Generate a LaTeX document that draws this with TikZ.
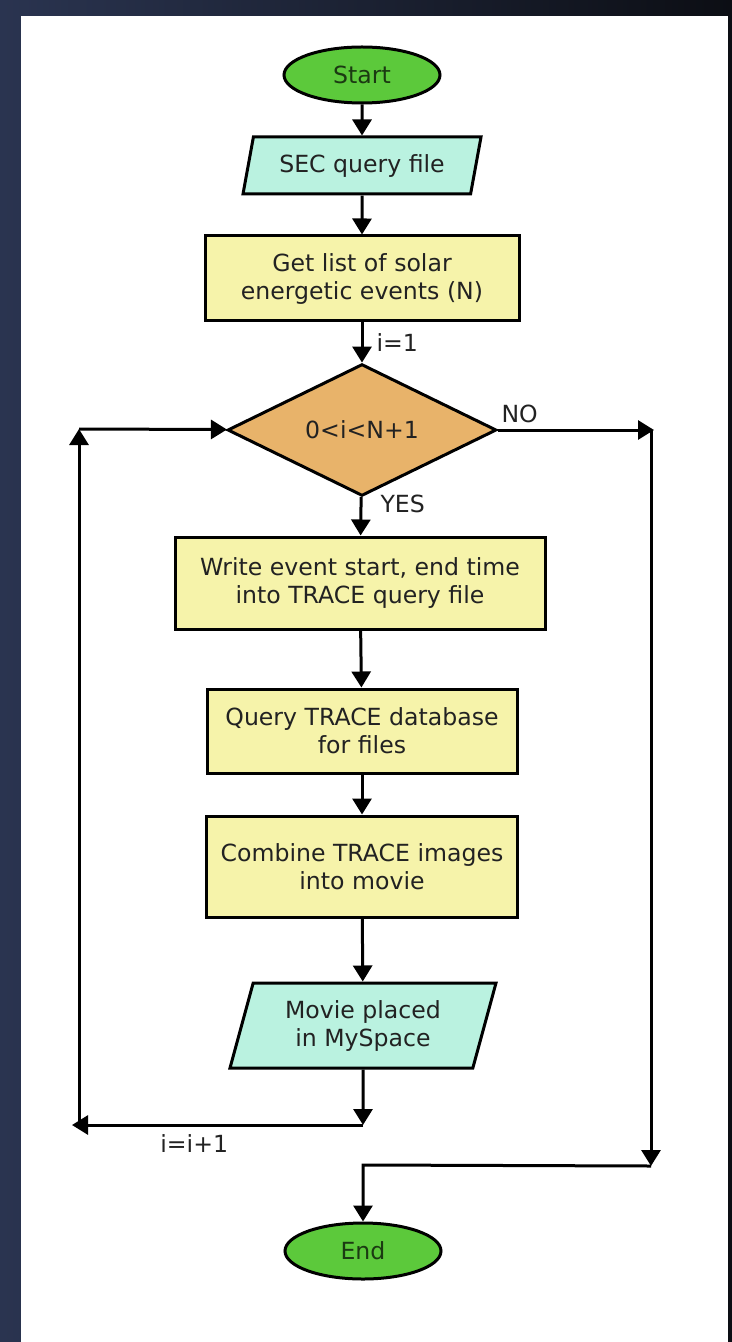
\documentclass[tikz,border=0pt]{standalone}
\usepackage{fontspec}
\setmainfont{DejaVu Sans}
\usetikzlibrary{shapes.geometric, arrows.meta, positioning}
\definecolor{termgreen}{HTML}{5CC93B}
\definecolor{termink}{HTML}{1B3A12}
\definecolor{procyellow}{HTML}{F6F3AA}
\definecolor{iocyan}{HTML}{BAF2E0}
\definecolor{decorange}{HTML}{E8B36A}
\definecolor{inkgray}{HTML}{222222}
\definecolor{bgleft}{HTML}{2A3450}
\definecolor{bgright}{HTML}{0C0E14}

\begin{document}
\begin{tikzpicture}[x=0.5pt, y=-0.5pt,
    font=\fontsize{11.8}{14}\selectfont,
    flow/.style={-{Triangle[length=8pt,width=9.5pt]}, line width=1.5pt},
    terminal/.style={ellipse, draw, line width=1.5pt, fill=termgreen, text=termink,
      minimum width=78pt, minimum height=28pt, inner sep=0pt},
    process/.style={rectangle, draw, line width=1.5pt, fill=procyellow, text=inkgray,
      align=center, inner sep=0pt},
    iobox/.style={trapezium, trapezium left angle=65.5, trapezium right angle=114.5,
      trapezium stretches body, draw, line width=1.5pt, fill=iocyan, text=inkgray,
      align=center, inner sep=0pt},
    decision/.style={diamond, draw, line width=1.5pt, fill=decorange, text=inkgray,
      minimum width=134.5pt, minimum height=58pt, inner sep=0pt},
    lbl/.style={inner sep=0pt, text=inkgray}]
    \useasboundingbox (0,0) rectangle (732,1342);
    % backdrop and white sheet
    \shade[left color=bgleft, right color=bgright] (0,0) rectangle (732,1342);
    \fill[white] (21,16) rectangle (728,1342);

    % blocks
    \node[terminal] (start) at (362,75) {Start};
    \node[iobox, minimum width=119pt, minimum height=28.5pt] (secq) at (362,165.5) {SEC query file};
    \node[process, minimum width=157pt, minimum height=42.5pt] (getlist) at (362,278.5)
      {Get list of solar\\energetic events (N)};
    \node[decision] (test) at (362,430) {0<i<N+1};
    \node[process, minimum width=185pt, minimum height=46pt] (writeq) at (360,583)
      {Write event start, end time\\into TRACE query file};
    \node[process, minimum width=155pt, minimum height=42pt] (querydb) at (362,731)
      {Query TRACE database\\for files};
    \node[process, minimum width=155.5pt, minimum height=50.5pt] (combine) at (362,866.5)
      {Combine TRACE images\\into movie};
    \node[iobox, minimum width=133pt, minimum height=42.5pt] (movie) at (363,1025.5)
      {Movie placed\\in MySpace};
    \node[terminal] (stop) at (363,1251) {End};

    % corners of the loop and of the exit
    \coordinate (backR) at (363,1125);
    \coordinate (backL) at (72,1125);
    \coordinate (backT) at (79,429);
    \coordinate (noR) at (654,430);
    \coordinate (noB) at (651,1166);
    \coordinate (endT) at (363,1165);

    % main flow
    \draw[flow] (start) -- (secq);
    \draw[flow] (secq) -- (getlist);
    \draw[flow] (getlist) -- (test) node[lbl, midway, right=6.5pt] (initlbl) {i=1};
    \draw[flow] (test) -- (writeq) node[lbl, pos=0.17, right=9pt] (yeslbl) {YES};
    \draw[flow] (writeq) -- (querydb);
    \draw[flow] (querydb) -- (combine);
    \draw[flow] (combine) -- (movie);

    % loop back
    \draw[flow] (movie) -- (backR);
    \draw[flow] (backR) -- (backL) node[lbl, pos=0.58, below=4pt] (inclbl) {i=i+1};
    \draw[flow] ([xshift=3.5pt]backL) -- (backT);
    \draw[flow] (backT) -- (test);

    % exit
    \draw[flow] (test) -- (noR) node[lbl, at start, above right=3pt and 1pt] (nolbl) {NO};
    \draw[flow] ([xshift=-1.5pt]noR) -- (noB);
    \draw[flow] (noB) -- (endT) -- (stop);
\end{tikzpicture}
\end{document}
